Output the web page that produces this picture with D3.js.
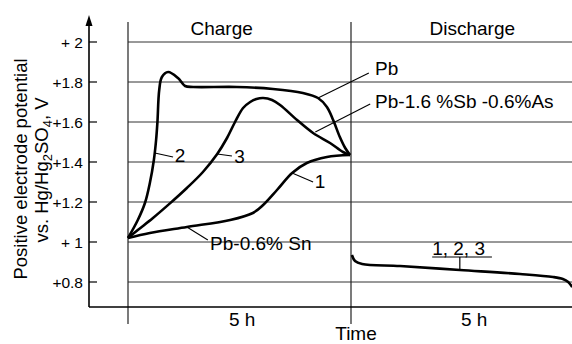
<!DOCTYPE html>
<html>
<head>
<meta charset="utf-8">
<script src="https://cdn.jsdelivr.net/npm/d3@7"></script>
<style>
body{margin:0;background:#fff}
text{font-family:"Liberation Sans",Arial,sans-serif;fill:#000}
</style>
</head>
<body>
<svg id="chart" width="572" height="344"></svg>
<script>
// values (time in hours, potential in V)
const yTicks=[0.8,1,1.2,1.4,1.6,1.8,2];
const yTickLabels=["+0.8","+ 1","+1.2","+1.4","+1.6","+1.8","+ 2"];
const phaseBounds=[0,5,10];
const phaseNames=["Charge","Discharge"];
const phaseNamePos=[2.1,7.72];
const hourLabels=["5 h","5 h"];
const hourLabelPos=[2.56,7.76];

const curve1=[[0,1.02],[0.49,1.045],[1.32,1.075],[2.29,1.11],[2.8,1.145],[3.03,1.185],[3.34,1.26],[3.68,1.345],[4.01,1.395],[4.46,1.425],[4.98,1.435]];
const curve2=[[0,1.02],[0.22,1.11],[0.38,1.195],[0.49,1.295],[0.58,1.41],[0.63,1.51],[0.66,1.6],[0.7,1.76],[0.76,1.825],[0.9,1.85],[1.12,1.82],[1.28,1.78],[1.46,1.775],[2.44,1.775],[3.25,1.765],[3.92,1.745],[4.26,1.72],[4.46,1.675],[4.6,1.61],[4.75,1.525],[4.87,1.47],[4.98,1.435]];
const curve3=[[0,1.02],[0.22,1.06],[0.56,1.12],[0.94,1.193],[1.32,1.27],[1.68,1.35],[2.0,1.44],[2.22,1.52],[2.4,1.6],[2.58,1.67],[2.74,1.7],[2.88,1.715],[3.03,1.72],[3.23,1.71],[3.41,1.685],[3.79,1.61],[4.15,1.545],[4.53,1.495],[4.82,1.45],[4.98,1.435]];
const discharge=[[5.02,0.935],[5.09,0.905],[5.25,0.89],[6.1,0.88],[7.44,0.86],[8.79,0.84],[9.53,0.825],[9.75,0.815],[9.87,0.8],[9.96,0.775]];

// curve labels: text, text anchor point, leader from/to (data units)
const curveLabels=[
  {text:"Pb",at:[5.54,1.835],from:[4.26,1.72],to:[5.4,1.845]},
  {text:"Pb-1.6 %Sb -0.6%As",at:[5.54,1.67],from:[4.2,1.55],to:[5.43,1.69]},
  {text:"2",at:[1.05,1.40],from:[0.6,1.445],to:[1.01,1.425]},
  {text:"3",at:[2.38,1.395],from:[2.0,1.44],to:[2.33,1.43]},
  {text:"1",at:[4.19,1.27],from:[3.68,1.345],to:[4.15,1.30]},
  {text:"Pb-0.6% Sn",at:[1.84,0.96],from:[1.32,1.075],to:[1.79,1.01]}
];
const groupLabel={text:"1, 2, 3",at:[6.82,0.935],lineFrom:6.82,lineTo:8.16,lineV:0.925,tickT:7.44,tickV:0.86};

const svg=d3.select('#chart');
const x=d3.scaleLinear().domain([0,10]).range([128,574]);
const y=d3.scaleLinear().domain([0.675,2.135]).range([307,15]);
const axisX=89;

// horizontal grid
svg.selectAll('line.grid')
  .data(yTicks)
  .enter()
  .append('line')
  .attr('x1',x(0)).attr('x2',572)
  .attr('y1',d=>y(d)).attr('y2',d=>y(d))
  .attr('stroke','#333').attr('stroke-width',1);

// vertical phase lines
svg.selectAll('line.phase')
  .data(phaseBounds.slice(0,2))
  .enter()
  .append('line')
  .attr('x1',d=>x(d)).attr('x2',d=>x(d))
  .attr('y1',22).attr('y2',324)
  .attr('stroke','#222').attr('stroke-width',1.2);

// y axis with arrow
svg.append('line').attr('x1',axisX).attr('x2',axisX).attr('y1',y(2.135)+4).attr('y2',y(0.675))
  .attr('stroke','#000').attr('stroke-width',1.6);
svg.append('path')
  .attr('d',`M${axisX},${y(2.135)} L${axisX-3.5},${y(2.135)+11} L${axisX+3.5},${y(2.135)+11} Z`)
  .attr('fill','#000');
svg.append('line').attr('x1',axisX).attr('x2',572).attr('y1',y(0.675)).attr('y2',y(0.675))
  .attr('stroke','#000').attr('stroke-width',1.6);

// y ticks and labels
svg.selectAll('line.ytick')
  .data(yTicks)
  .enter()
  .append('line')
  .attr('x1',axisX).attr('x2',axisX+8)
  .attr('y1',d=>y(d)).attr('y2',d=>y(d))
  .attr('stroke','#000').attr('stroke-width',1.2);
svg.selectAll('text.ylab')
  .data(yTicks)
  .enter()
  .append('text')
  .attr('x',axisX-6)
  .attr('y',d=>y(d)+5.5)
  .attr('text-anchor','end')
  .style('font-size','15.5px')
  .text((d,i)=>yTickLabels[i]);

// y title
svg.append('text')
  .attr('transform','translate(27,169) rotate(-90)')
  .attr('text-anchor','middle')
  .style('font-size','18.5px')
  .text('Positive electrode potential');
const yt2=svg.append('text')
  .attr('transform','translate(48,170) rotate(-90)')
  .attr('text-anchor','middle')
  .style('font-size','18.5px');
yt2.append('tspan').text('vs. Hg/Hg');
yt2.append('tspan').attr('dy',4).style('font-size','13px').text('2');
yt2.append('tspan').attr('dy',-4).text('SO');
yt2.append('tspan').attr('dy',4).style('font-size','13px').text('4');
yt2.append('tspan').attr('dy',-4).text(', V');

// phase titles
svg.selectAll('text.phase')
  .data(phaseNames)
  .enter()
  .append('text')
  .attr('x',(d,i)=>x(phaseNamePos[i]))
  .attr('y',35)
  .attr('text-anchor','middle')
  .style('font-size','19px')
  .text(d=>d);

// hour labels and time title
svg.selectAll('text.hours')
  .data(hourLabels)
  .enter()
  .append('text')
  .attr('x',(d,i)=>x(hourLabelPos[i]))
  .attr('y',326)
  .attr('text-anchor','middle')
  .style('font-size','19px')
  .text(d=>d);
svg.append('text').attr('x',x(5)+5).attr('y',340).attr('text-anchor','middle')
  .style('font-size','19px').text('Time');

// curves
const line=d3.line().x(d=>x(d[0])).y(d=>y(d[1])).curve(d3.curveCatmullRom.alpha(0.5));
svg.selectAll('path.curve')
  .data([curve1,curve2,curve3,discharge])
  .enter()
  .append('path')
  .attr('d',line)
  .attr('fill','none')
  .attr('stroke','#000')
  .attr('stroke-width',2.6)
  .attr('stroke-linejoin','round');

// labels with leaders
svg.selectAll('line.leader')
  .data(curveLabels)
  .enter()
  .append('line')
  .attr('x1',d=>x(d.from[0])).attr('y1',d=>y(d.from[1]))
  .attr('x2',d=>x(d.to[0])).attr('y2',d=>y(d.to[1]))
  .attr('stroke','#000').attr('stroke-width',1.1);
svg.selectAll('text.clabel')
  .data(curveLabels)
  .enter()
  .append('text')
  .attr('x',d=>x(d.at[0])).attr('y',d=>y(d.at[1]))
  .style('font-size','19px')
  .text(d=>d.text);

svg.append('text').attr('x',x(groupLabel.at[0])).attr('y',y(groupLabel.at[1]))
  .style('font-size','19px').text(groupLabel.text);
svg.append('line')
  .attr('x1',x(groupLabel.lineFrom)).attr('x2',x(groupLabel.lineTo))
  .attr('y1',y(groupLabel.lineV)).attr('y2',y(groupLabel.lineV))
  .attr('stroke','#000').attr('stroke-width',1.2);
svg.append('line')
  .attr('x1',x(groupLabel.tickT)).attr('x2',x(groupLabel.tickT))
  .attr('y1',y(groupLabel.lineV)).attr('y2',y(groupLabel.tickV))
  .attr('stroke','#000').attr('stroke-width',1.2);
</script>
</body>
</html>
